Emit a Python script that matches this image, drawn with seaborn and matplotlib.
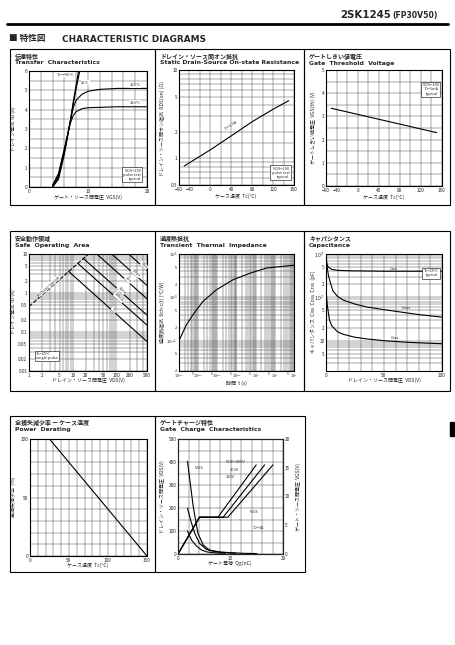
import numpy as np
import matplotlib
matplotlib.use("Agg")
import matplotlib.pyplot as plt
import seaborn as sns
from matplotlib.patches import Rectangle
from matplotlib.ticker import MultipleLocator, FixedLocator, NullFormatter

# ==========================
# DATA
# ==========================

# transfer characteristics, VGS (V) -> ID (A)
tr_vgs_m55 = [4, 5, 6, 7, 7.5, 8, 8.4]
tr_id_m55 = [0.0, 0.4, 1.7, 3.4, 4.4, 5.3, 6.0]
tr_vgs_25 = [4, 5, 6, 7, 7.5, 8, 8.6]
tr_id_25 = [0.0, 0.5, 1.8, 3.4, 4.3, 5.1, 6.0]
tr_vgs_100 = [4, 5, 6, 7, 7.5, 8, 9, 10, 12, 15, 20]
tr_id_100 = [0.05, 0.6, 1.9, 3.4, 4.1, 4.5, 4.8, 4.95, 5.05, 5.1, 5.1]
tr_vgs_150 = [4, 5, 6, 7, 7.5, 8, 9, 10, 15, 20]
tr_id_150 = [0.1, 0.7, 2.0, 3.3, 3.7, 3.9, 4.05, 4.1, 4.15, 4.15]

# on-state resistance vs case temperature
ron_tc = [-50, 0, 40, 80, 120, 150]
ron_ohm = [0.82, 1.25, 1.8, 2.6, 3.6, 4.5]

# gate threshold voltage vs case temperature
vth_tc = [-50, 150]
vth_v = [3.35, 2.3]

# safe operating area (VDS, ID)
soa_rds_v = [1, 23]
soa_rds_i = [0.45, 10]
soa_names = ["10μs", "100μs", "1ms", "10ms", "100ms", "DC"]
soa_v_start = [190, 78, 35.5, 17.3, 12.9, 8.0]
soa_i_start = [10, 10, 10, 7.8, 5.8, 3.6]
soa_v_end = [500, 500, 500, 500, 500, 500]
soa_i_end = [3.8, 1.56, 0.71, 0.27, 0.15, 0.057]

# transient thermal impedance
tz_t = [1e-4, 2.4e-4, 5.4e-4, 1.8e-3, 9e-3, 0.067, 0.5, 3.7, 27.7, 100]
tz_z = [0.1, 0.23, 0.4, 0.81, 1.5, 2.56, 3.6, 4.75, 5.2, 5.5]

# capacitance vs VDS
cap_vds_ciss = [0, 1, 2, 5, 10, 20, 50, 100]
cap_ciss = [650, 560, 500, 440, 420, 410, 400, 400]
cap_vds_coss = [0, 1, 2, 3.5, 6, 10, 15, 25, 35, 50, 64, 80, 100]
cap_coss = [1000, 500, 330, 230, 140, 105, 86, 70, 60, 52, 46, 40, 35]
cap_vds_crss = [0, 1, 2, 3, 5, 10, 15, 25, 35, 50, 70, 100]
cap_crss = [150, 70, 45, 30, 22, 16, 14, 12, 11, 10, 9.2, 8.5]

# power derating
pd_tc = [25, 150]
pd_pct = [100, 0]

# gate charge
gc_qg_400 = [1.8, 2.9, 3.8, 4.8, 6.0, 8.0, 9.8, 12.4, 15]
gc_vds_400 = [403, 206, 90, 39, 17, 9, 6, 3, 2]
gc_qg_200 = [1.8, 2.5, 3.2, 4.1, 5.4, 7.0, 8.6, 11]
gc_vds_200 = [199, 140, 90, 46, 20, 10, 6, 3]
gc_qg_100 = [1.8, 2.6, 3.5, 4.5, 5.5, 7.0, 9]
gc_vds_100 = [100, 60, 35, 17, 9, 5, 3]
gc_qg_vgs100 = [0, 4.1, 7.6, 14.9]
gc_vgs100 = [0, 6.4, 6.4, 15.5]
gc_qg_vgs200 = [0, 4.1, 8.6, 16.5]
gc_vgs200 = [0, 6.4, 6.4, 15.5]
gc_qg_vgs400 = [0, 4.1, 9.5, 18.1]
gc_vgs400 = [0, 6.4, 6.4, 15.5]

# ==========================
# FIGURE
# ==========================

sns.set_style("white")
plt.rcParams['font.family'] = ['Noto Sans CJK JP', 'DejaVu Sans']
plt.rcParams['axes.unicode_minus'] = True

W, H = 455, 645
fig = plt.figure(figsize=(W / 100, H / 100), dpi=100)

bg = fig.add_axes([0, 0, 1, 1])
bg.set_xlim(0, W)
bg.set_ylim(H, 0)
bg.axis("off")

TICK = 3.4
LAB = 3.6


def box(x0, y0, x1, y1, jp, en):
    bg.add_patch(Rectangle((x0, y0), x1 - x0, y1 - y0, fill=False,
                           lw=0.8, ec="k"))
    bg.text(x0 + 5, y0 + 7, jp, fontsize=4.3, weight="bold", va="center")
    bg.text(x0 + 5, y0 + 14, en, fontsize=4.4, weight="bold", va="center",
            family="DejaVu Sans")


def panel(l, t, r, b):
    ax = fig.add_axes([l / W, 1 - b / H, (r - l) / W, (b - t) / H])
    for s in ax.spines.values():
        s.set_linewidth(0.8)
        s.set_color("k")
    ax.tick_params(which="both", length=0, pad=1.2, labelsize=TICK)
    ax.set_facecolor("white")
    return ax


def grid(ax):
    ax.grid(True, which="both", color="0.3", lw=0.35)
    ax.set_axisbelow(True)


def note(ax, x, y, lines):
    ax.text(x, y, lines, transform=ax.transAxes, fontsize=2.8,
            ha="right", va="bottom", linespacing=1.1,
            bbox=dict(boxstyle="square,pad=0.3", fc="white", ec="k", lw=0.4))


def ylab(x, y, s):
    bg.text(x, y, s, fontsize=LAB, rotation=90, ha="center", va="center")


def xlab(x, y, s):
    bg.text(x, y, s, fontsize=LAB, ha="center", va="center")


# ==========================
# HEADER
# ==========================

bg.text(391, 15, "2SK1245", fontsize=7.4, weight="bold", ha="right",
        va="center", family="DejaVu Sans")
bg.text(392, 15.5, "(FP30V50)", fontsize=5.6, weight="bold", ha="left",
        va="center", family="DejaVu Sans")
bg.plot([7, 448], [24, 24], color="k", lw=2.0)
bg.text(9, 39, "■ 特性図", fontsize=6.2, weight="bold", va="center")
bg.text(62, 39, "CHARACTERISTIC DIAGRAMS", fontsize=6.4, weight="bold",
        va="center", family="DejaVu Sans")
bg.add_patch(Rectangle((450, 422), 4, 14, color="k"))

# ==========================
# BOXES
# ==========================

box(10, 49, 155, 205, "伝達特性", "Transfer  Characteristics")
box(155, 49, 304, 205, "ドレイン・ソース間オン抵抗",
    "Static Drain-Source On-state Resistance")
box(304, 49, 450, 205, "ゲートしきい値電圧", "Gate  Threshold  Voltage")
box(10, 231, 155, 391, "安全動作領域", "Safe  Operating  Area")
box(155, 231, 304, 391, "過渡熱抵抗", "Transient  Thermal  Impedance")
box(304, 231, 450, 391, "キャパシタンス", "Capacitance")
box(10, 416, 155, 572, "全損失減少率 — ケース温度", "Power  Derating")
box(155, 416, 305, 572, "ゲートチャージ特性", "Gate  Charge  Characteristics")

# ==========================
# 1 TRANSFER
# ==========================

ax = panel(29, 71, 147, 187)
ax.set_xlim(0, 20)
ax.set_ylim(0, 6)
ax.xaxis.set_major_locator(FixedLocator([0, 10, 20]))
ax.xaxis.set_minor_locator(MultipleLocator(2))
ax.yaxis.set_major_locator(MultipleLocator(1))
ax.yaxis.set_minor_locator(MultipleLocator(0.5))
grid(ax)
for xs, ys in [(tr_vgs_m55, tr_id_m55), (tr_vgs_25, tr_id_25),
               (tr_vgs_100, tr_id_100), (tr_vgs_150, tr_id_150)]:
    sns.lineplot(x=xs, y=ys, ax=ax, color="k", lw=0.8)
ax.text(6.2, 5.75, "Tc=−55°C", fontsize=2.9, ha="center",
        bbox=dict(fc="white", ec="none", pad=0.3))
ax.text(9.6, 5.35, "25°C", fontsize=2.9, ha="center",
        bbox=dict(fc="white", ec="none", pad=0.3))
ax.text(18, 5.2, "100°C", fontsize=2.9, ha="center",
        bbox=dict(fc="white", ec="none", pad=0.3))
ax.text(18, 4.3, "150°C", fontsize=2.9, ha="center",
        bbox=dict(fc="white", ec="none", pad=0.3))
note(ax, 0.95, 0.05, "VDS=25V\npulse test\ntypical")
ylab(13, 129, "ドレイン電流  ID (A)")
xlab(88, 197, "ゲート・ソース間電圧  VGS(V)")

# ==========================
# 2 ON RESISTANCE
# ==========================

ax = panel(179, 70, 294, 185)
ax.set_yscale("log")
ax.set_xlim(-60, 160)
ax.set_ylim(0.5, 10)
ax.xaxis.set_major_locator(FixedLocator([-60, -40, 0, 40, 80, 120, 160]))
ax.xaxis.set_minor_locator(MultipleLocator(20))
ax.yaxis.set_major_locator(FixedLocator([0.5, 1, 2, 5, 10]))
ax.yaxis.set_minor_locator(FixedLocator(
    [0.6, 0.7, 0.8, 0.9, 1.5, 3, 4, 6, 7, 8, 9]))
ax.yaxis.set_major_formatter(plt.FuncFormatter(lambda v, p: f"{v:g}"))
ax.yaxis.set_minor_formatter(NullFormatter())
grid(ax)
sns.lineplot(x=ron_tc, y=ron_ohm, ax=ax, color="k", lw=0.8)
ax.text(40, 2.05, "ID=1.5A", fontsize=2.9, rotation=33, ha="center",
        va="bottom")
note(ax, 0.96, 0.05, "VGS=10V\npulse test\ntypical")
ylab(162, 128, "ドレイン・ソース間オン抵抗  RDS(on) (Ω)")
xlab(236, 196, "ケース温度  Tc(°C)")

# ==========================
# 3 THRESHOLD
# ==========================

ax = panel(326, 70, 442, 186)
ax.set_xlim(-60, 160)
ax.set_ylim(0, 5)
ax.xaxis.set_major_locator(FixedLocator([-60, -40, 0, 40, 80, 120, 160]))
ax.xaxis.set_minor_locator(MultipleLocator(20))
ax.yaxis.set_major_locator(MultipleLocator(1))
ax.yaxis.set_minor_locator(MultipleLocator(0.5))
grid(ax)
sns.lineplot(x=vth_tc, y=vth_v, ax=ax, color="k", lw=0.8)
note(ax, 0.97, 0.78, "VDS=10V\nID=1mA\ntypical")
ylab(313, 128, "ゲートしきい値電圧  VGS(th) (V)")
xlab(384, 197, "ケース温度  Tc(°C)")

# ==========================
# 4 SAFE OPERATING AREA
# ==========================

ax = panel(29, 254, 147, 371)
ax.set_xscale("log")
ax.set_yscale("log")
ax.set_xlim(1, 500)
ax.set_ylim(0.01, 10)
xt = [1, 2, 5, 10, 20, 50, 100, 200, 500]
yt = [0.01, 0.02, 0.05, 0.1, 0.2, 0.5, 1, 2, 5, 10]
ax.xaxis.set_major_locator(FixedLocator(xt))
ax.yaxis.set_major_locator(FixedLocator(yt))
ax.xaxis.set_minor_locator(FixedLocator(
    [k * 10 ** d for d in range(0, 3) for k in range(2, 10)]))
ax.yaxis.set_minor_locator(FixedLocator(
    [k * 10 ** d for d in range(-2, 1) for k in range(2, 10)]))
ax.xaxis.set_major_formatter(plt.FuncFormatter(lambda v, p: f"{v:g}"))
ax.yaxis.set_major_formatter(plt.FuncFormatter(lambda v, p: f"{v:g}"))
ax.xaxis.set_minor_formatter(NullFormatter())
ax.yaxis.set_minor_formatter(NullFormatter())
grid(ax)
sns.lineplot(x=soa_rds_v, y=soa_rds_i, ax=ax, color="k", lw=0.8,
             linestyle="--")
ax.text(2.8, 1.5, "RDS(on) limited", fontsize=2.7, rotation=42,
        ha="center", va="center", bbox=dict(fc="white", ec="none", pad=0.2))
for name, v0, i0, v1, i1 in zip(soa_names, soa_v_start, soa_i_start,
                                soa_v_end, soa_i_end):
    sns.lineplot(x=[v0, v1], y=[i0, i1], ax=ax, color="k", lw=0.8)
    vm = np.sqrt(v0 * v1) * 1.4
    im = i0 * v0 / vm * 1.15
    ax.text(vm, im, name, fontsize=2.7, rotation=-42, ha="center",
            va="center", bbox=dict(fc="white", ec="none", pad=0.2))
ax.text(0.06, 0.1, "Tc=25°C\nsingle pulse", transform=ax.transAxes,
        fontsize=2.8, linespacing=1.1,
        bbox=dict(boxstyle="square,pad=0.3", fc="white", ec="k", lw=0.4))
ylab(13, 312, "ドレイン電流  ID (A)")
xlab(88, 380, "ドレイン・ソース間電圧  VDS(V)")

# ==========================
# 5 TRANSIENT THERMAL IMPEDANCE
# ==========================

ax = panel(179, 254, 294, 371)
ax.set_xscale("log")
ax.set_yscale("log")
ax.set_xlim(1e-4, 1e2)
ax.set_ylim(0.02, 10)
xt = []
xl = []
for d in range(-4, 3):
    xt.append(10.0 ** d)
    xl.append(rf"$10^{{{d}}}$")
    if d < 2:
        xt.append(5 * 10.0 ** d)
        xl.append("5")
ax.xaxis.set_major_locator(FixedLocator(xt))
ax.xaxis.set_major_formatter(plt.FixedFormatter(xl))
ax.xaxis.set_minor_locator(FixedLocator(
    [k * 10.0 ** d for d in range(-4, 2) for k in (2, 3, 4, 6, 7, 8, 9)]))
yt = [0.02, 0.05, 0.1, 0.2, 0.5, 1, 2, 5, 10]
yl = ["2", "5", r"$10^{-1}$", "2", "5", r"$10^{0}$", "2", "5", r"$10^{1}$"]
ax.yaxis.set_major_locator(FixedLocator(yt))
ax.yaxis.set_major_formatter(plt.FixedFormatter(yl))
ax.yaxis.set_minor_locator(FixedLocator(
    [k * 10.0 ** d for d in range(-2, 1) for k in (3, 4, 6, 7, 8, 9)]))
ax.xaxis.set_minor_formatter(NullFormatter())
ax.yaxis.set_minor_formatter(NullFormatter())
ax.tick_params(axis="x", labelsize=2.5, pad=1.0)
ax.tick_params(axis="y", labelsize=2.9)
grid(ax)
sns.lineplot(x=tz_t, y=tz_z, ax=ax, color="k", lw=0.8)
ylab(162, 312, "過渡熱抵抗  θch-c(t) (°C/W)")
xlab(236, 383, "時間  t (s)")

# ==========================
# 6 CAPACITANCE
# ==========================

ax = panel(326, 254, 442, 371)
ax.set_yscale("log")
ax.set_xlim(0, 100)
ax.set_ylim(2, 1000)
ax.xaxis.set_major_locator(FixedLocator([0, 50, 100]))
ax.xaxis.set_minor_locator(MultipleLocator(10))
yt = [5, 10, 20, 50, 100, 200, 500, 1000]
yl = ["5", "10", "2", "5", r"$10^{2}$", "2", "5", r"$10^{3}$"]
ax.yaxis.set_major_locator(FixedLocator(yt))
ax.yaxis.set_major_formatter(plt.FixedFormatter(yl))
ax.yaxis.set_minor_locator(FixedLocator(
    [k * 10.0 ** d for d in range(0, 3) for k in (3, 4, 6, 7, 8, 9)]))
ax.yaxis.set_minor_formatter(NullFormatter())
grid(ax)
sns.lineplot(x=cap_vds_ciss, y=cap_ciss, ax=ax, color="k", lw=0.8)
sns.lineplot(x=cap_vds_coss, y=cap_coss, ax=ax, color="k", lw=0.8)
sns.lineplot(x=cap_vds_crss, y=cap_crss, ax=ax, color="k", lw=0.8)
ax.text(55, 430, "Ciss", fontsize=3.0)
ax.text(65, 55, "Coss", fontsize=3.0)
ax.text(56, 11, "Crss", fontsize=3.0)
note(ax, 0.97, 0.8, "Tc=25°C\ntypical")
ylab(313, 312, "キャパシタンス  Ciss  Coss  Crss  (pF)")
xlab(384, 380, "ドレイン・ソース間電圧  VDS(V)")

# ==========================
# 7 POWER DERATING
# ==========================

ax = panel(30, 439, 147, 556)
ax.set_xlim(0, 150)
ax.set_ylim(0, 100)
ax.xaxis.set_major_locator(FixedLocator([0, 50, 100, 150]))
ax.xaxis.set_minor_locator(MultipleLocator(10))
ax.yaxis.set_major_locator(FixedLocator([0, 50, 100]))
ax.yaxis.set_minor_locator(MultipleLocator(10))
grid(ax)
sns.lineplot(x=pd_tc, y=pd_pct, ax=ax, color="k", lw=0.8)
ylab(13, 497, "全損失減少率  (%)")
xlab(88, 565, "ケース温度  Tc(°C)")

# ==========================
# 8 GATE CHARGE
# ==========================

ax = panel(178, 439, 283, 554)
ax.set_xlim(0, 20)
ax.set_ylim(0, 500)
ax.xaxis.set_major_locator(FixedLocator([0, 10, 20]))
ax.xaxis.set_minor_locator(MultipleLocator(2))
ax.yaxis.set_major_locator(MultipleLocator(100))
ax.yaxis.set_minor_locator(MultipleLocator(50))
grid(ax)
for xs, ys in [(gc_qg_400, gc_vds_400), (gc_qg_200, gc_vds_200),
               (gc_qg_100, gc_vds_100)]:
    sns.lineplot(x=xs, y=ys, ax=ax, color="k", lw=0.8)
ax2 = ax.twinx()
ax2.set_ylim(0, 20)
ax2.yaxis.set_major_locator(MultipleLocator(5))
ax2.tick_params(length=0, pad=1.2, labelsize=TICK)
for s in ax2.spines.values():
    s.set_linewidth(0.8)
for xs, ys in [(gc_qg_vgs100, gc_vgs100), (gc_qg_vgs200, gc_vgs200),
               (gc_qg_vgs400, gc_vgs400)]:
    sns.lineplot(x=xs, y=ys, ax=ax2, color="k", lw=0.8)
ax2.set_ylabel("")
ax.text(3.2, 370, "VDS", fontsize=3.0)
ax.text(13.8, 180, "VGS", fontsize=3.0)
ax.text(9.2, 395, "VDD=400V", fontsize=2.8)
ax.text(9.8, 360, "200V", fontsize=2.8)
ax.text(9.0, 330, "100V", fontsize=2.8)
ax.text(14.5, 110, "ID=3A", fontsize=2.8)
ylab(162, 497, "ドレイン・ソース間電圧  VDS(V)")
ylab(298, 497, "ゲート・ソース間電圧  VGS(V)")
xlab(230, 563, "ゲート電荷  Qg(nC)")

fig.savefig("out.png", dpi=100)
